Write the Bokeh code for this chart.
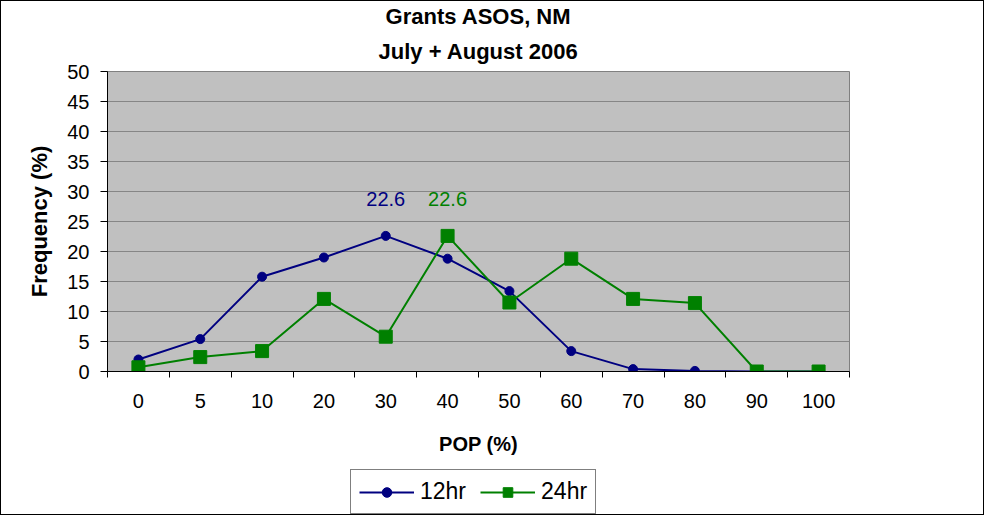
from bokeh.plotting import figure
from bokeh.layouts import column
from bokeh.models import (LinearAxis, FixedTicker, Legend, LegendItem, Title,
                          Range1d, ColumnDataSource)
from bokeh.core.properties import value
from bokeh.embed import file_html
from bokeh.resources import INLINE

# ---- data ----
categories = ["0", "5", "10", "20", "30", "40", "50", "60", "70", "80", "90", "100"]
hr12 = [2.0, 5.4, 15.8, 19.0, 22.6, 18.8, 13.4, 3.4, 0.4, 0.1, 0.0, 0.0]
hr24 = [0.7, 2.4, 3.4, 12.1, 5.8, 22.6, 11.5, 18.8, 12.1, 11.4, 0.0, 0.0]
yticks = [0, 5, 10, 15, 20, 25, 30, 35, 40, 45, 50]
series_names = ["12hr", "24hr"]

FONT = "Liberation Sans"
NAVY = "#000080"
GREEN = "#008000"

n = len(categories)
xs = list(range(n))

p = figure(width=982, height=462, output_backend="svg", toolbar_location=None,
           x_range=Range1d(-0.5, n - 0.5), y_range=Range1d(yticks[0], yticks[-1]),
           min_border_left=106, min_border_right=134, min_border_top=70,
           min_border_bottom=92)

p.background_fill_color = "#C0C0C0"
p.border_fill_color = "white"
p.outline_line_color = "#808080"
p.outline_line_width = 1

# titles
p.add_layout(Title(text="July + August 2006", align="center", text_font=FONT,
                   text_font_size="22px", text_font_style="bold",
                   text_color="black", standoff=15), "above")
p.add_layout(Title(text="Grants ASOS, NM", align="center", text_font=FONT,
                   text_font_size="22px", text_font_style="bold",
                   text_color="black", standoff=1), "above")

# boundary tick axis (default x axis)
bounds = [i - 0.5 for i in range(n + 1)]
xa = p.xaxis[0]
xa.ticker = FixedTicker(ticks=bounds)
xa.major_label_overrides = {b: "" for b in bounds}
xa.major_label_text_font_size = "1px"
xa.major_label_standoff = 0
xa.major_tick_out = 6
xa.major_tick_in = 0
xa.minor_tick_line_color = None
xa.axis_line_color = "black"
xa.major_tick_line_color = "black"
p.xgrid.visible = False

# label axis
xl = LinearAxis(ticker=FixedTicker(ticks=xs),
                major_label_overrides={i: c for i, c in enumerate(categories)},
                axis_line_color=None, major_tick_line_color=None,
                minor_tick_line_color=None,
                major_label_text_font=FONT, major_label_text_font_size="20px",
                major_label_text_color="black", major_label_standoff=10,
                axis_label="POP (%)", axis_label_text_font=FONT,
                axis_label_text_font_size="20px", axis_label_text_color="black",
                axis_label_text_font_style="bold", axis_label_standoff=22)
p.add_layout(xl, "below")

# y axis
ya = p.yaxis[0]
ya.ticker = FixedTicker(ticks=yticks)
ya.major_tick_out = 7
ya.major_tick_in = 0
ya.minor_tick_line_color = None
ya.axis_line_color = "black"
ya.major_tick_line_color = "black"
ya.major_label_text_font = FONT
ya.major_label_text_font_size = "20px"
ya.major_label_text_color = "black"
ya.major_label_standoff = 11
ya.axis_label = "Frequency (%)"
ya.axis_label_text_font = FONT
ya.axis_label_text_font_size = "22px"
ya.axis_label_text_color = "black"
ya.axis_label_text_font_style = "bold"
ya.axis_label_standoff = 12
p.ygrid.grid_line_color = "#868686"
p.ygrid.grid_line_width = 1

# series
p.line(xs, hr12, line_color=NAVY, line_width=2)
p.scatter(xs, hr12, marker="circle", size=9, fill_color=NAVY, line_color=NAVY)
p.line(xs, hr24, line_color=GREEN, line_width=2)
p.scatter(xs, hr24, marker="square", size=13, fill_color=GREEN, line_color=GREEN)

# peak labels
i12 = max(range(n), key=lambda i: hr12[i])
i24 = max(range(n), key=lambda i: hr24[i])
lab = ColumnDataSource(dict(x=[i12, i24], y=[hr12[i12], hr24[i24]],
                            t=[f"{hr12[i12]}", f"{hr24[i24]}"], c=[NAVY, GREEN]))
p.text(x="x", y="y", text="t", source=lab, text_color="c",
       text_font=value(FONT), text_font_size="20px", text_align="center",
       text_baseline="middle", y_offset=-37)

# ---- legend strip (separate small figure under the chart) ----
# its ranges are placed away from the data, so the proxy glyphs themselves
# are not visible; only the legend is drawn
q = figure(width=982, height=51, output_backend="svg", toolbar_location=None,
           x_axis_location=None, y_axis_location=None,
           x_range=Range1d(-3, -2), y_range=Range1d(-3, -2),
           min_border_left=0, min_border_right=0, min_border_top=0,
           min_border_bottom=0)
q.grid.visible = False
q.outline_line_color = None
q.background_fill_color = "white"
q.border_fill_color = "white"
s12 = ColumnDataSource(dict(x=xs, y=hr12))
s24 = ColumnDataSource(dict(x=xs, y=hr24))
g12 = [q.line("x", "y", source=s12, line_color=NAVY, line_width=2),
       q.scatter("x", "y", source=s12, marker="circle", size=8,
                 fill_color=NAVY, line_color=NAVY)]
g24 = [q.line("x", "y", source=s24, line_color=GREEN, line_width=2),
       q.scatter("x", "y", source=s24, marker="square", size=11,
                 fill_color=GREEN, line_color=GREEN)]

legend = Legend(items=[LegendItem(label=series_names[0], renderers=g12),
                       LegendItem(label=series_names[1], renderers=g24)],
                orientation="horizontal", location=(243, 0),
                border_line_color="black", border_line_width=1,
                background_fill_color="white", background_fill_alpha=1,
                label_text_font=FONT, label_text_font_size="23px",
                label_text_color="black",
                glyph_width=55, glyph_height=24, padding=8, spacing=14,
                label_standoff=6, margin=0)
q.add_layout(legend, "center")

layout = column(p, q, spacing=0)
layout.styles = {"border": "1px solid black"}

open("out.html", "w").write(file_html(layout, INLINE))
